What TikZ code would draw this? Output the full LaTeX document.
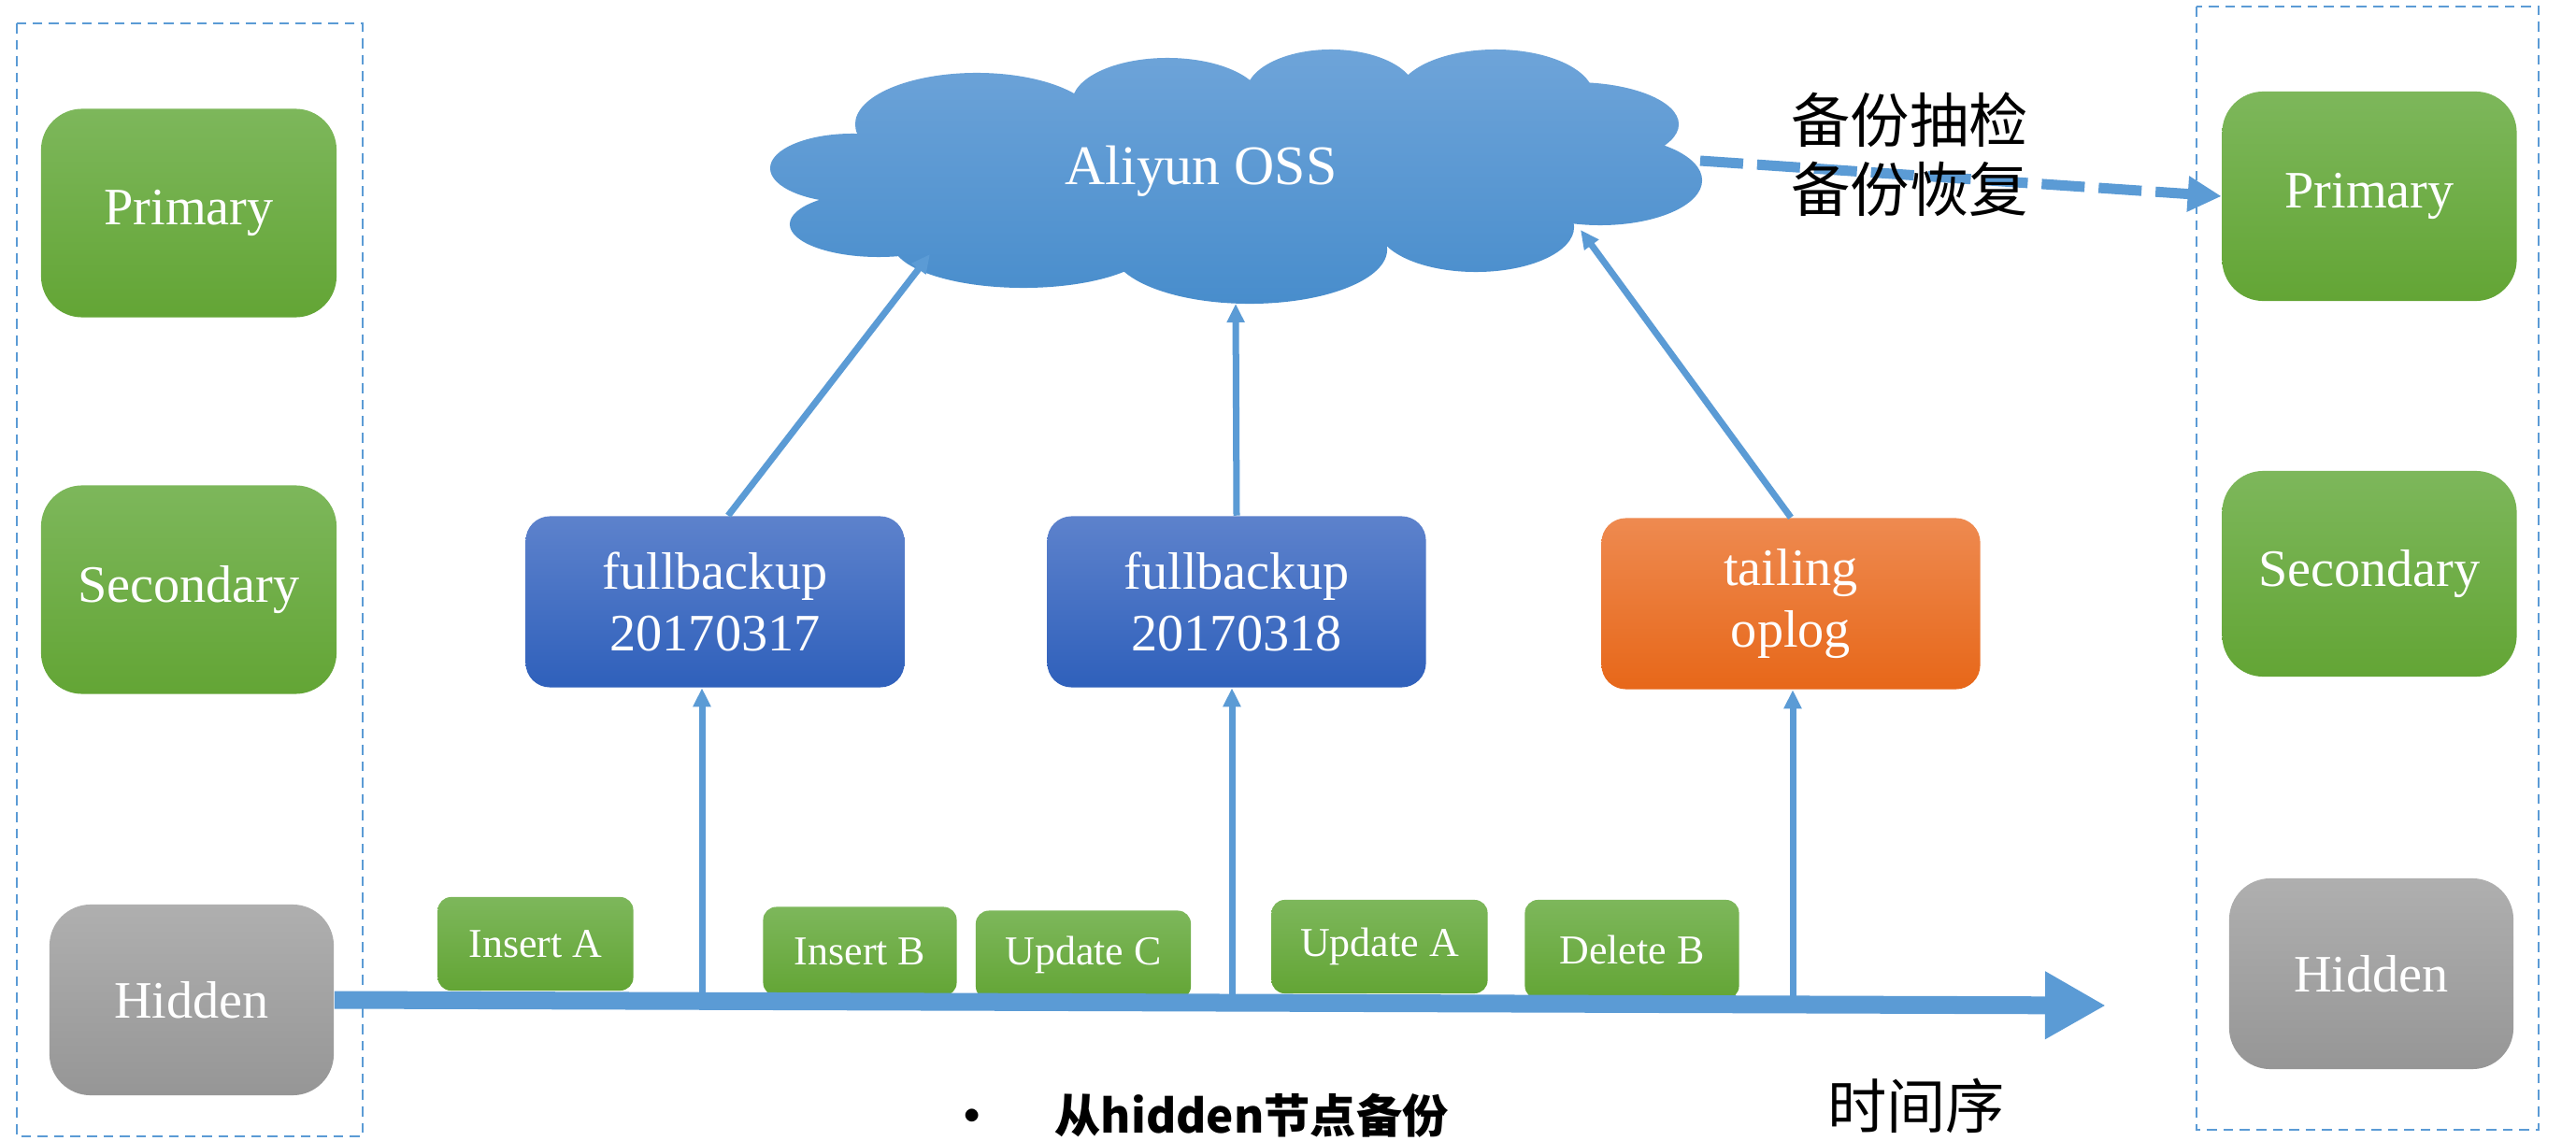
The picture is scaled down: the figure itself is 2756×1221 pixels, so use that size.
\documentclass[tikz,border=0pt]{standalone}
\usepackage{fontspec}
\setmainfont{Liberation Serif}
\newfontfamily\cjk{Noto Sans CJK SC}
\usetikzlibrary{arrows.meta}
\definecolor{linkblue}{HTML}{5B9BD5}
\definecolor{greentop}{HTML}{7DB75B}
\definecolor{greenbot}{HTML}{63A535}
\definecolor{greytop}{HTML}{AFAFAF}
\definecolor{greybot}{HTML}{969696}
\definecolor{bluetop}{HTML}{5D82CC}
\definecolor{bluebot}{HTML}{2F60BB}
\definecolor{orangetop}{HTML}{EE8A50}
\definecolor{orangebot}{HTML}{E76719}
\definecolor{cloudtop}{HTML}{6EA4D9}
\definecolor{cloudbot}{HTML}{488DCC}

\begin{document}
\begin{tikzpicture}[x=0.01cm, y=-0.01cm,
    member/.style={rounded corners=0.44cm, top color=greentop, bottom color=greenbot, text=white,
        font=\fontsize{16}{18}\selectfont, minimum width=3.16cm, minimum height=2.23cm},
    hiddenbox/.style={member, top color=greytop, bottom color=greybot,
        minimum width=3.04cm, minimum height=2.04cm},
    backup/.style={rounded corners=0.26cm, top color=bluetop, bottom color=bluebot,
        text=white, align=center, font=\fontsize{16}{19}\selectfont,
        minimum width=4.05cm, minimum height=1.83cm},
    oplog/.style={backup, top color=orangetop, bottom color=orangebot},
    op/.style={rounded corners=0.14cm, top color=greentop, bottom color=greenbot, text=white,
        font=\fontsize{12.5}{14}\selectfont, minimum height=1cm},
    frame/.style={draw=linkblue, line width=0.5pt, densely dashed},
    link/.style={draw=linkblue, line width=0.07cm, -{Triangle[length=0.2cm,width=0.18cm]}}]

\useasboundingbox (0,0) rectangle (2756,1221);
\clip (0,0) rectangle (2756,1221);
\fill[white] (0,0) rectangle (2756,1221);

%% replica set we back up from
\draw[frame] (18,25) rectangle (388,1216);
\node[member] (lprim) at (202,228) {Primary};
\node[member] (lsec) at (202,631) {Secondary};
\node[hiddenbox] (lhid) at (205,1070) {Hidden};

%% replica set we restore into
\draw[frame] (2350,7) rectangle (2716,1209);
\node[member, minimum width=3.15cm, minimum height=2.24cm] (rprim) at (2535,210) {Primary};
\node[member, minimum width=3.15cm, minimum height=2.2cm] (rsec) at (2535,614) {Secondary};
\node[hiddenbox] (rhid) at (2537,1042) {Hidden};

%% the cloud, puff by puff
\shade[top color=cloudtop, bottom color=cloudbot]
    (1322,185) ellipse [x radius=4cm, y radius=0.8cm]
    (1045,133) ellipse [x radius=1.3cm, y radius=0.55cm]
    (1249,110) ellipse [x radius=1.02cm, y radius=0.48cm]
    (1424,100) ellipse [x radius=0.91cm, y radius=0.47cm]
    (1600,103) ellipse [x radius=1.05cm, y radius=0.5cm]
    (1684,133) ellipse [x radius=1.12cm, y radius=0.45cm]
    (1712,193) ellipse [x radius=1.09cm, y radius=0.48cm]
    (1579,243) ellipse [x radius=1.05cm, y radius=0.48cm]
    (1337,267) ellipse [x radius=1.47cm, y radius=0.58cm]
    (1095,260) ellipse [x radius=1.4cm, y radius=0.48cm]
    (940,240) ellipse [x radius=0.95cm, y radius=0.35cm]
    (912,180) ellipse [x radius=0.88cm, y radius=0.37cm];
\node[text=white, font=\fontsize{17}{20}\selectfont] (oss) at (1285,183) {Aliyun OSS};

\node[backup] (fb1) at (765,644) {fullbackup\\20170317};
\node[backup] (fb2) at (1323,644) {fullbackup\\20170318};
\node[oplog] (tail) at (1916,646) {tailing\\oplog};

\node[op, minimum width=2.09cm] (insA) at (573,1010) {Insert A};
\node[op, minimum width=2.07cm, minimum height=0.95cm] (insB) at (920,1018) {Insert B};
\node[op, minimum width=2.3cm, minimum height=0.95cm] (updC) at (1159,1022) {Update C};
\node[op, minimum width=2.31cm] (updA) at (1476,1013) {Update A};
\node[op, minimum width=2.29cm, minimum height=1.06cm] (delB) at (1746,1016) {Delete B};

%% time axis
\coordinate (tend) at (2253,1076);
\draw[draw=linkblue, line width=0.19cm, -{Triangle[length=0.65cm,width=0.68cm]}] (lhid.east) -- (tend);

\coordinate (t1) at (751,1066);
\coordinate (t2) at (1318,1070);
\coordinate (t3) at (1918,1073);
\draw[link] (t1) -- (t1 |- fb1.south);
\draw[link] (t2) -- (t2 |- fb2.south);
\draw[link] (t3) -- (t3 |- tail.south);

\coordinate (o1) at (995,272);
\coordinate (o2) at (1322,325);
\coordinate (o3) at (1691,246);
\draw[link] ([xshift=0.14cm]fb1.north) -- (o1);
\draw[link] (fb2.north) -- (o2);
\draw[link] (tail.north) -- (o3);

\coordinate (ossr) at (1819,172);
\draw[draw=linkblue, line width=0.11cm, dash pattern=on 0.46cm off 0.15cm,
    -{Triangle[length=0.36cm,width=0.36cm]}] (ossr) -- (rprim.west);

\node[font=\cjk\fontsize{18}{20}\selectfont] (check) at (2043,128) {备份抽检};
\node[font=\cjk\fontsize{18}{20}\selectfont] (restore) at (2043,202) {备份恢复};
\node[font=\cjk\fontsize{18}{20}\selectfont] (order) at (2050,1183) {时间序};
\node[font=\cjk\bfseries\fontsize{14}{16}\selectfont, anchor=west] (src) at (1003,1194)
    {•\hspace{1.3em}从hidden节点备份};
\end{tikzpicture}
\end{document}
